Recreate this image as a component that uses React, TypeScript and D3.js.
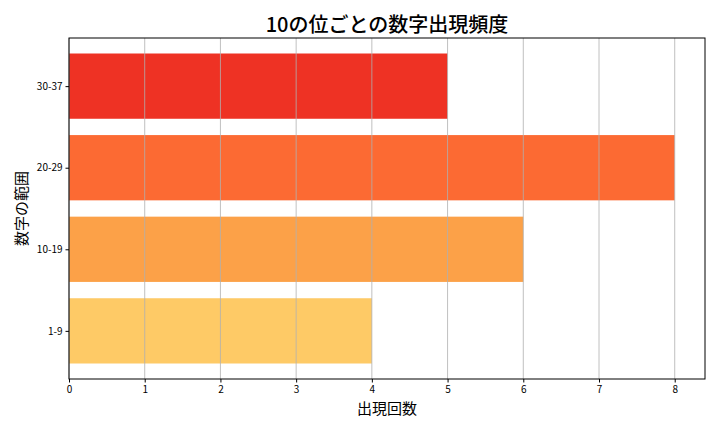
import React, { useEffect, useRef } from "react";
import * as d3 from "d3";

const categories = ["1-9", "10-19", "20-29", "30-37"];
const counts = [4, 6, 8, 5];
const barColors = ["#FECA66", "#FCA148", "#FC6A33", "#EE3224"];
const xTicks = [0, 1, 2, 3, 4, 5, 6, 7, 8];

const FONT = "'Noto Sans CJK JP', 'Noto Sans', sans-serif";

export default function App() {
  const ref = useRef<SVGSVGElement | null>(null);

  useEffect(() => {
    const width = 720;
    const height = 432;
    const margin = { top: 38, right: 15, bottom: 53, left: 69 };
    const w = width - margin.left - margin.right;
    const h = height - margin.top - margin.bottom;

    const svg = d3.select(ref.current);
    svg.selectAll("*").remove();

    const g = svg
      .append("g")
      .attr("transform", "translate(" + margin.left + "," + margin.top + ")");

    // matplotlib style: 0.8 wide bars, 5% margins
    const x = d3.scaleLinear().domain([0, 8.4]).range([0, w]);
    const y = d3.scaleLinear().domain([-0.59, 3.59]).range([h, 0]);

    // bars
    g.selectAll("rect.bar")
      .data(counts)
      .enter()
      .append("rect")
      .attr("class", "bar")
      .attr("x", x(0))
      .attr("y", (d, i) => y(i + 0.4))
      .attr("width", (d) => x(d) - x(0))
      .attr("height", y(-0.4) - y(0.4))
      .attr("fill", (d, i) => barColors[i]);

    // grid over bars
    g.selectAll("line.grid")
      .data(xTicks)
      .enter()
      .append("line")
      .attr("class", "grid")
      .attr("x1", (d) => x(d))
      .attr("x2", (d) => x(d))
      .attr("y1", 0)
      .attr("y2", h)
      .attr("stroke", "#b0b0b0")
      .attr("stroke-width", 0.8);

    // x axis
    const xAxis = g
      .append("g")
      .attr("transform", "translate(0," + h + ")")
      .call(d3.axisBottom(x).tickValues(xTicks).tickFormat(d3.format("d")).tickSize(3.5).tickPadding(3));
    xAxis.select(".domain").remove();
    xAxis.selectAll("text").attr("font-family", FONT).attr("font-size", 10).attr("fill", "#000");
    xAxis.selectAll("line").attr("stroke", "#000");

    // y axis
    const yAxis = g
      .append("g")
      .call(
        d3
          .axisLeft(y)
          .tickValues([0, 1, 2, 3])
          .tickFormat((d) => categories[d as number])
          .tickSize(3.5)
          .tickPadding(3)
      );
    yAxis.select(".domain").remove();
    yAxis.selectAll("text").attr("font-family", FONT).attr("font-size", 10).attr("fill", "#000");
    yAxis.selectAll("line").attr("stroke", "#000");

    // frame
    g.append("rect")
      .attr("width", w)
      .attr("height", h)
      .attr("fill", "none")
      .attr("stroke", "#000")
      .attr("stroke-width", 1);

    // title
    svg
      .append("text")
      .attr("x", margin.left + w / 2)
      .attr("y", 32)
      .attr("text-anchor", "middle")
      .attr("font-family", FONT)
      .attr("font-size", 20)
      .attr("font-weight", 500)
      .text("10の位ごとの数字出現頻度");

    // x label
    svg
      .append("text")
      .attr("x", margin.left + w / 2)
      .attr("y", 414)
      .attr("text-anchor", "middle")
      .attr("font-family", FONT)
      .attr("font-size", 15)
      .text("出現回数");

    // y label
    svg
      .append("text")
      .attr("transform", "translate(27," + (margin.top + h / 2) + ") rotate(-90)")
      .attr("text-anchor", "middle")
      .attr("font-family", FONT)
      .attr("font-size", 15)
      .text("数字の範囲");
  }, []);

  return (
    <svg
      ref={ref}
      width={720}
      height={432}
      style={{ position: "absolute", left: 0, top: 0, background: "#fff" }}
    ></svg>
  );
}
